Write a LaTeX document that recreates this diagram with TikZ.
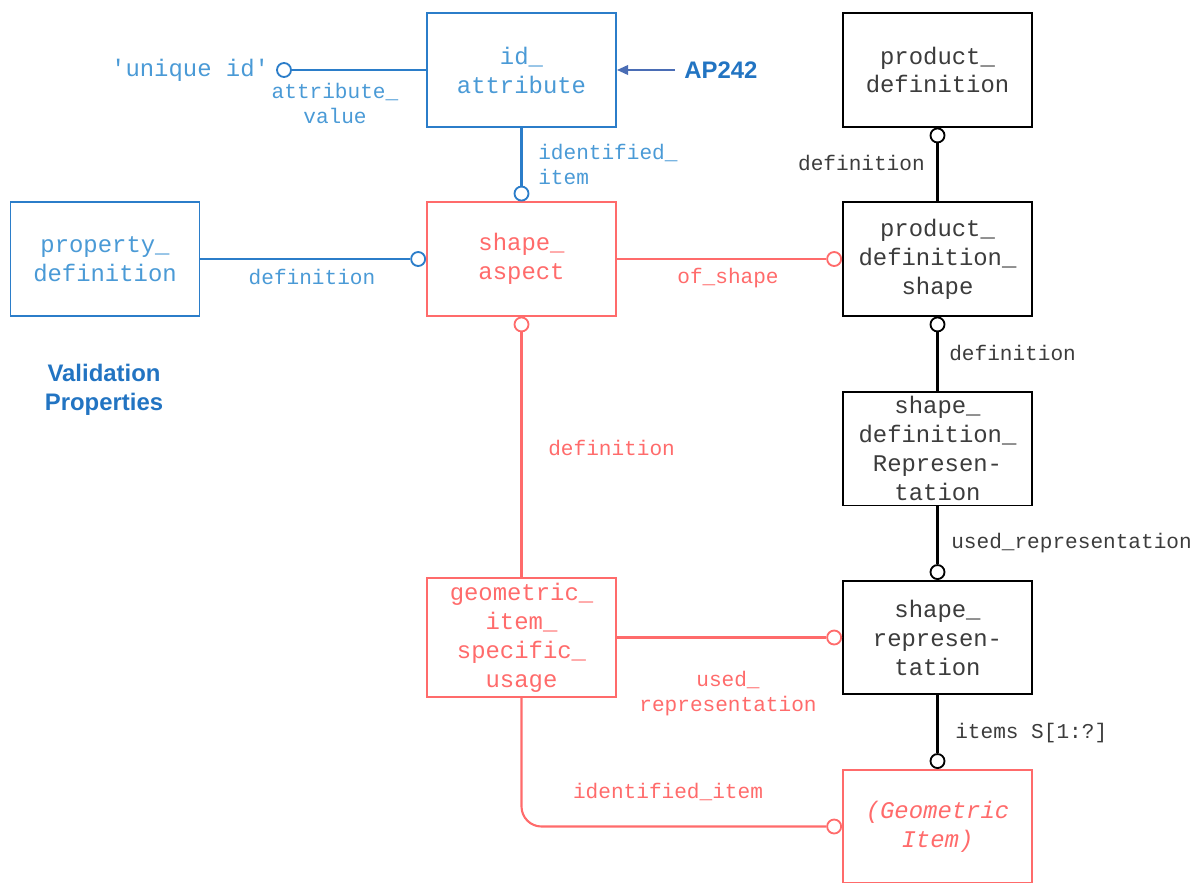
\documentclass[tikz,border=0pt]{standalone}
\usepackage{fontspec}
\usetikzlibrary{arrows.meta}
\usetikzlibrary{positioning}
\newfontfamily\monof{Liberation Mono}[Ligatures=TeXOff]
\newfontfamily\sansf{Liberation Sans}
\definecolor{apblue}{HTML}{2B7DC9}
\definecolor{aptext}{HTML}{4A9AD6}
\definecolor{apnote}{HTML}{2274C2}
\definecolor{apred}{HTML}{FF6B6B}
\definecolor{apgray}{HTML}{3C3C3C}
\definecolor{apslate}{HTML}{4A6DB5}
\tikzstyle{entity} = [rectangle, minimum width=4.725cm, minimum height=2.83cm, text centered, align=center, line width=1.3pt, fill=white, font=\monof\fontsize{17}{20.6}\selectfont]
\tikzstyle{bentity} = [entity, draw=apblue, text=aptext]
\tikzstyle{rentity} = [entity, draw=apred, text=apred]
\tikzstyle{kentity} = [entity, draw=black, text=apgray]
\tikzstyle{lab} = [font=\monof\fontsize{15}{17.8}\selectfont, inner sep=0pt]
\tikzstyle{ring} = [circle, draw, fill=white, inner sep=0pt, minimum size=0.35cm, line width=1.3pt]
\tikzstyle{conn} = [draw, line width=1.5pt]
\tikzstyle{note} = [font=\sansf\bfseries\fontsize{17}{21}\selectfont, text=apnote, align=center]

\begin{document}
\begin{tikzpicture}[x=0.025cm, y=-0.025cm]
 \useasboundingbox (0,0) rectangle (1201,882);

 % entities
 \node (ida) [bentity] at (521.5,70) {id\_\\attribute};
 \node (prd) [kentity] at (937.5,70) {product\_\\definition};
 \node (pd) [bentity] at (105,259) {property\_\\definition};
 \node (sa) [rentity] at (521.5,259) {shape\_\\aspect};
 \node (pds) [kentity] at (937.5,259) {product\_\\definition\_\\shape};
 \node (sdr) [kentity] at (937.5,448.5) {shape\_\\definition\_\\Represen-\\tation};
 \node (gisu) [rentity] at (521.5,637.5) {geometric\_\\item\_\\specific\_\\usage};
 \node (sr) [kentity] at (937.5,637.5) {shape\_\\represen-\\tation};
 \node (gi) [rentity, font=\monof\itshape\fontsize{17}{20.6}\selectfont] at (937.5,826.5) {(Geometric\\Item)};

 % notes
 \node (vp) [note] at (104,390) {Validation\\Properties};
 \node (ap) [note, anchor=west, inner xsep=0.225cm, inner ysep=0pt] at (675,70) {AP242};
 \draw[conn, apslate, -{Triangle[length=0.28cm,width=0.24cm]}] (ap) -- (ida);

 % 'unique id'
 \node (uidc) [ring, draw=apblue] at (284,70) {};
 \node (uid) [lab, text=aptext, font=\monof\fontsize{17}{20.6}\selectfont, left=0.17cm of uidc] {'unique id'};
 \draw[conn, apblue] (uidc) -- (ida);
 \node[lab, text=aptext, align=center] at (335,103) {attribute\_\\value};

 % blue links
 \node (sa-t) [ring, draw=apblue, anchor=south] at (sa.north) {};
 \draw[conn, apblue] (ida) -- (sa-t);
 \node[lab, text=aptext, align=left, anchor=west] at (538,164) {identified\_\\item};
 \node (sa-l) [ring, draw=apblue, anchor=east] at (sa.west) {};
 \draw[conn, apblue] (pd) -- (sa-l);
 \node[lab, text=aptext] at (312,277) {definition};

 % red links
 \node (pds-l) [ring, draw=apred, anchor=east] at (pds.west) {};
 \draw[conn, apred] (sa) -- (pds-l);
 \node[lab, text=apred] at (728,278) {of\_shape};
 \node (sa-b) [ring, draw=apred, anchor=north] at (sa.south) {};
 \draw[conn, apred] (sa-b) -- (gisu);
 \node[lab, text=apred, anchor=west] at (548,448) {definition};
 \node (sr-l) [ring, draw=apred, anchor=east] at (sr.west) {};
 \draw[conn, apred] (gisu) -- (sr-l);
 \node[lab, text=apred, align=center] at (728,694) {used\_\\representation};
 \node (gi-l) [ring, draw=apred, anchor=east] at (gi.west) {};
 \draw[conn, apred, rounded corners=0.5cm] (gisu.south) |- (gi-l);
 \node[lab, text=apred] at (668,792) {identified\_item};

 % black links
 \node (prd-b) [ring, anchor=north] at (prd.south) {};
 \draw[conn] (prd-b) -- (pds);
 \node[lab, text=apgray, anchor=east] at (925,163) {definition};
 \node (pds-b) [ring, anchor=north] at (pds.south) {};
 \draw[conn] (pds-b) -- (sdr);
 \node[lab, text=apgray, anchor=west] at (949,353) {definition};
 \node (sr-t) [ring, anchor=south] at (sr.north) {};
 \draw[conn] (sdr) -- (sr-t);
 \node[lab, text=apgray, anchor=west] at (951,543) {used\_representation};
 \node (gi-t) [ring, anchor=south] at (gi.north) {};
 \draw[conn] (sr) -- (gi-t);
 \node[lab, text=apgray, anchor=west] at (955,733) {items S[1:?]};
\end{tikzpicture}
\end{document}
